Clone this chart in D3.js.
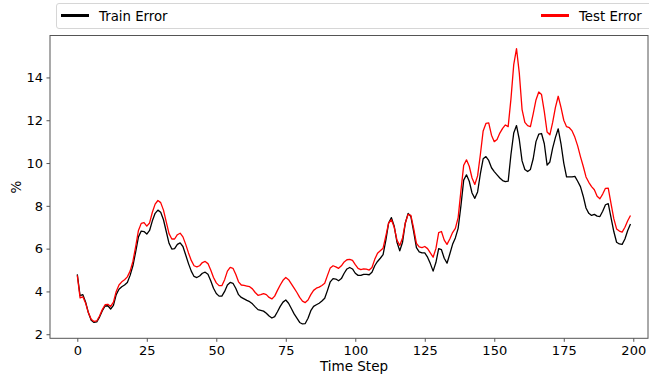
<!DOCTYPE html>
<html>
<head>
<meta charset="utf-8">
<script src="https://cdn.jsdelivr.net/npm/d3@7"></script>
<style>
  html, body { margin: 0; padding: 0; background: #fff; }
  svg { display: block; }
  text { font-family: "DejaVu Sans", sans-serif; fill: #000; }
</style>
</head>
<body>
<svg id="chart" width="649" height="378"></svg>
<script>
// ---- data ----
const trainError = [
  4.8, 3.8, 3.85, 3.5, 3.0, 2.65, 2.55, 2.58, 2.8, 3.1,
  3.32, 3.33, 3.18, 3.35, 3.85, 4.1, 4.22, 4.3, 4.42, 4.75,
  5.2, 5.85, 6.55, 6.82, 6.8, 6.68, 6.85, 7.3, 7.65, 7.8,
  7.7, 7.35, 6.8, 6.25, 5.98, 6.0, 6.2, 6.27, 6.1, 5.7,
  5.3, 4.95, 4.7, 4.65, 4.72, 4.85, 4.9, 4.8, 4.5, 4.15,
  3.9, 3.78, 3.78, 4.0, 4.3, 4.42, 4.38, 4.15, 3.85, 3.72,
  3.65, 3.58, 3.52, 3.42, 3.28, 3.15, 3.12, 3.08, 2.98, 2.85,
  2.76, 2.82, 3.05, 3.3, 3.5, 3.6, 3.45, 3.2, 2.95, 2.75,
  2.55, 2.48, 2.5, 2.75, 3.1, 3.3, 3.38, 3.45, 3.55, 3.68,
  4.05, 4.45, 4.6, 4.58, 4.5, 4.6, 4.85, 5.05, 5.12, 5.05,
  4.85, 4.75, 4.75, 4.8, 4.8, 4.78, 4.9, 5.2, 5.4, 5.55,
  5.72, 6.4, 7.2, 7.45, 7.05, 6.3, 5.9, 6.3, 7.2, 7.65,
  7.5, 6.8, 6.05, 5.85, 5.8, 5.8, 5.6, 5.3, 4.95, 5.35,
  6.0, 5.95, 5.55, 5.32, 5.75, 6.2, 6.5, 6.95, 8.0, 9.2,
  9.45, 9.15, 8.6, 8.35, 8.65, 9.5, 10.2, 10.3, 10.12, 9.78,
  9.6, 9.45, 9.3, 9.18, 9.13, 9.15, 10.4, 11.4, 11.75, 11.1,
  10.1, 9.7, 9.6, 9.7, 10.2, 11.0, 11.35, 11.38, 10.9, 9.9,
  10.05, 10.7, 11.2, 11.6, 10.9, 10.0, 9.35, 9.35, 9.35, 9.38,
  9.15, 8.9, 8.45, 7.9, 7.65, 7.55, 7.6, 7.52, 7.5, 7.75,
  8.05, 8.1, 7.45, 6.8, 6.3, 6.22, 6.2, 6.45, 6.85, 7.15
];
const testError = [
  4.75, 3.7, 3.75, 3.45, 3.0, 2.7, 2.6, 2.62, 2.85, 3.15,
  3.38, 3.4, 3.3, 3.5, 4.0, 4.3, 4.45, 4.55, 4.68, 4.95,
  5.4, 6.1, 6.85, 7.18, 7.22, 7.05, 7.2, 7.7, 8.08, 8.25,
  8.15, 7.8, 7.25, 6.7, 6.45, 6.45, 6.65, 6.72, 6.55, 6.2,
  5.8, 5.45, 5.2, 5.15, 5.2, 5.35, 5.4, 5.3, 5.0, 4.65,
  4.4, 4.27, 4.27, 4.55, 4.95, 5.12, 5.08, 4.8, 4.45, 4.3,
  4.28, 4.25, 4.22, 4.12, 3.95, 3.82, 3.85, 3.9, 3.85, 3.72,
  3.65, 3.78, 4.05, 4.3, 4.52, 4.65, 4.55, 4.35, 4.15, 3.95,
  3.72, 3.55, 3.48, 3.6, 3.85, 4.05, 4.15, 4.2, 4.28, 4.38,
  4.75, 5.1, 5.2, 5.15, 5.08, 5.2, 5.38, 5.48, 5.5, 5.45,
  5.25, 5.08, 5.02, 5.05, 5.04, 5.0, 5.12, 5.5, 5.78, 5.9,
  6.02, 6.6, 7.2, 7.35, 7.0, 6.4, 6.15, 6.5, 7.2, 7.6,
  7.55, 6.95, 6.25, 6.08, 6.05, 6.1, 6.0, 5.8, 5.6, 6.0,
  6.75, 6.8, 6.4, 6.2, 6.45, 6.75, 6.95, 7.45, 8.7, 9.9,
  10.15, 9.85, 9.3, 9.0, 9.4, 10.4, 11.5, 11.85, 11.88, 11.3,
  11.0, 11.1, 11.4, 11.62, 11.78, 11.7, 13.0, 14.6, 15.35, 14.2,
  12.5, 11.9, 11.75, 11.7, 12.3, 12.95, 13.32, 13.2, 12.4, 11.45,
  11.32, 11.9, 12.6, 13.12, 12.6, 12.0, 11.7, 11.65, 11.5, 11.2,
  10.8, 10.3, 9.85, 9.35, 9.1, 8.9, 8.75, 8.45, 8.33, 8.55,
  8.82, 8.83, 8.1, 7.4, 6.92, 6.82, 6.77, 7.0, 7.3, 7.55
];
const xTicks = [0, 25, 50, 75, 100, 125, 150, 175, 200];
const yTicks = [2, 4, 6, 8, 10, 12, 14];
const seriesNames = ["Train Error", "Test Error"];
const seriesColors = ["#000000", "#ff0000"];
const xLabel = "Time Step";
const yLabel = "%";

// ---- layout ----
const svg = d3.select("#chart");
const plot = { left: 50, right: 648, top: 35.5, bottom: 338.3 };

const x = d3.scaleLinear().domain([-9.82, 205.3]).range([plot.left, plot.right]);
const y = d3.scaleLinear().domain([1.81, 15.96]).range([plot.bottom, plot.top]);

// lines
const line = d3.line().x((d, i) => x(i)).y(d => y(d));
const g = svg.append("g");
[trainError, testError].forEach((s, k) => {
  g.append("path")
    .datum(s)
    .attr("fill", "none")
    .attr("stroke", seriesColors[k])
    .attr("stroke-width", 1.3)
    .attr("stroke-linejoin", "round")
    .attr("d", line);
});

// frame
svg.append("rect")
  .attr("x", plot.left).attr("y", plot.top)
  .attr("width", plot.right - plot.left).attr("height", plot.bottom - plot.top)
  .attr("fill", "none").attr("stroke", "#555").attr("stroke-width", 1);

// x axis
const xAxis = d3.axisBottom(x).tickValues(xTicks).tickSize(3.5).tickPadding(3.5).tickFormat(d3.format("d"));
const gx = svg.append("g").attr("transform", `translate(0,${plot.bottom})`).call(xAxis);
gx.select(".domain").remove();
gx.selectAll("line").attr("stroke", "#555");
gx.selectAll("text").attr("font-size", 13).attr("font-family", "DejaVu Sans, sans-serif").attr("fill", "#000");

// y axis
const yAxis = d3.axisLeft(y).tickValues(yTicks).tickSize(3.5).tickPadding(3.5).tickFormat(d3.format("d"));
const gy = svg.append("g").attr("transform", `translate(${plot.left},0)`).call(yAxis);
gy.select(".domain").remove();
gy.selectAll("line").attr("stroke", "#555");
gy.selectAll("text").attr("font-size", 13).attr("font-family", "DejaVu Sans, sans-serif").attr("fill", "#000");

// axis labels
svg.append("text")
  .attr("x", 354).attr("y", 371)
  .attr("text-anchor", "middle").attr("font-size", 13.5)
  .text(xLabel);
svg.append("text")
  .attr("transform", "translate(21,187) rotate(-90)")
  .attr("text-anchor", "middle").attr("font-size", 13.5)
  .text(yLabel);

// legend
const leg = svg.append("g");
leg.append("rect")
  .attr("x", 56.5).attr("y", 3.5).attr("width", 600).attr("height", 25)
  .attr("rx", 2.5).attr("fill", "#fff").attr("stroke", "#d6d6d6").attr("stroke-width", 1);
const legItems = [
  { name: seriesNames[0], color: seriesColors[0], x0: 61 },
  { name: seriesNames[1], color: seriesColors[1], x0: 541 }
];
legItems.forEach(it => {
  leg.append("line")
    .attr("x1", it.x0).attr("x2", it.x0 + 28)
    .attr("y1", 15.5).attr("y2", 15.5)
    .attr("stroke", it.color).attr("stroke-width", 3);
  leg.append("text")
    .attr("x", it.x0 + 38).attr("y", 20.5)
    .attr("font-size", 13.3)
    .text(it.name);
});
</script>
</body>
</html>
